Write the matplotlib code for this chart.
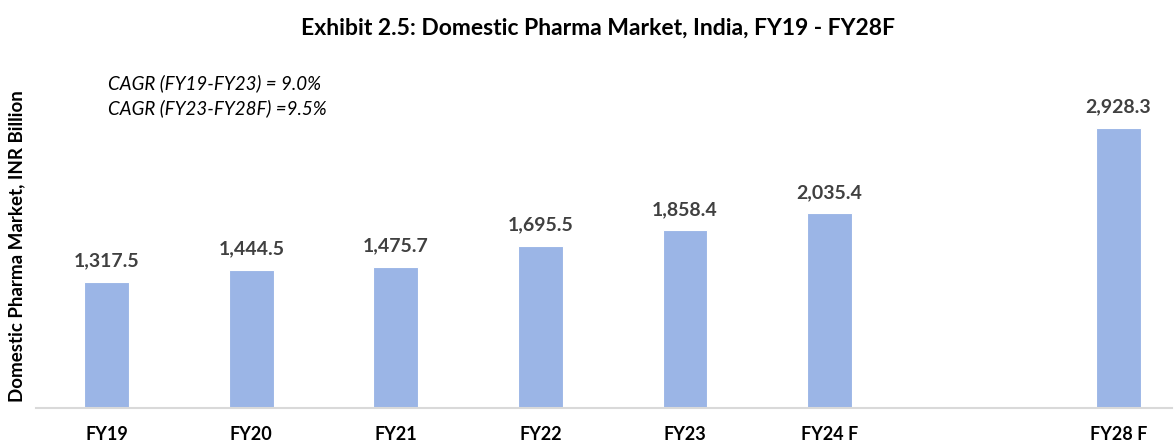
import numpy as np
import matplotlib
matplotlib.use("Agg")
import matplotlib.pyplot as plt

plt.rcParams['font.family'] = ['Lato', 'DejaVu Sans']

# data
categories = ['FY19', 'FY20', 'FY21', 'FY22', 'FY23', 'FY24 F', '', 'FY28 F']
values = [1317.5, 1444.5, 1475.7, 1695.5, 1858.4, 2035.4, np.nan, 2928.3]
title = 'Exhibit 2.5: Domestic Pharma Market, India, FY19 - FY28F'
ylabel = 'Domestic Pharma Market, INR Billion'
cagr_notes = ['CAGR (FY19-FY23) = 9.0%', 'CAGR (FY23-FY28F) =9.5%']

bar_color = '#9BB5E6'
label_color = '#404040'

fig = plt.figure(figsize=(11.76, 4.44), dpi=100)
ax = fig.add_axes([36 / 1176, 36 / 444, (1172 - 36) / 1176, (408 - 60) / 444])

x = np.arange(len(categories))
bars = ax.bar(x, values, width=0.31, color=bar_color, edgecolor='white', linewidth=0.8, zorder=2)

for xi, v in zip(x, values):
    if np.isnan(v):
        continue
    ax.annotate(f'{v:,.1f}', (xi, v), xytext=(0, 9), textcoords='offset points',
                ha='center', va='bottom', fontsize=14, fontweight='bold', color=label_color)

ax.set_xlim(-0.49, 7.37)
ax.set_ylim(0, 3640)
ax.set_xticks(x)
ax.set_xticklabels(categories, fontsize=13, fontweight='bold', color='black')
ax.tick_params(axis='x', length=0, pad=13)
ax.set_yticks([])

for side in ['top', 'right', 'left']:
    ax.spines[side].set_visible(False)
ax.spines['bottom'].set_color('#D9D9D9')
ax.spines['bottom'].set_linewidth(1.5)

fig.text(598 / 1176, 1 - 28 / 444, title, ha='center', va='center',
         fontsize=16.5, fontweight='bold', color='black')
fig.text(17 / 1176, 1 - 246 / 444, ylabel, ha='center', va='center', rotation=90,
         fontsize=13.5, fontweight='bold', color='black')
for i, note in enumerate(cagr_notes):
    fig.text(108 / 1176, 1 - (83 + 25 * i) / 444, note, ha='left', va='center',
             fontsize=13.5, style='italic', color='black')

fig.savefig('out.png', dpi=100)
